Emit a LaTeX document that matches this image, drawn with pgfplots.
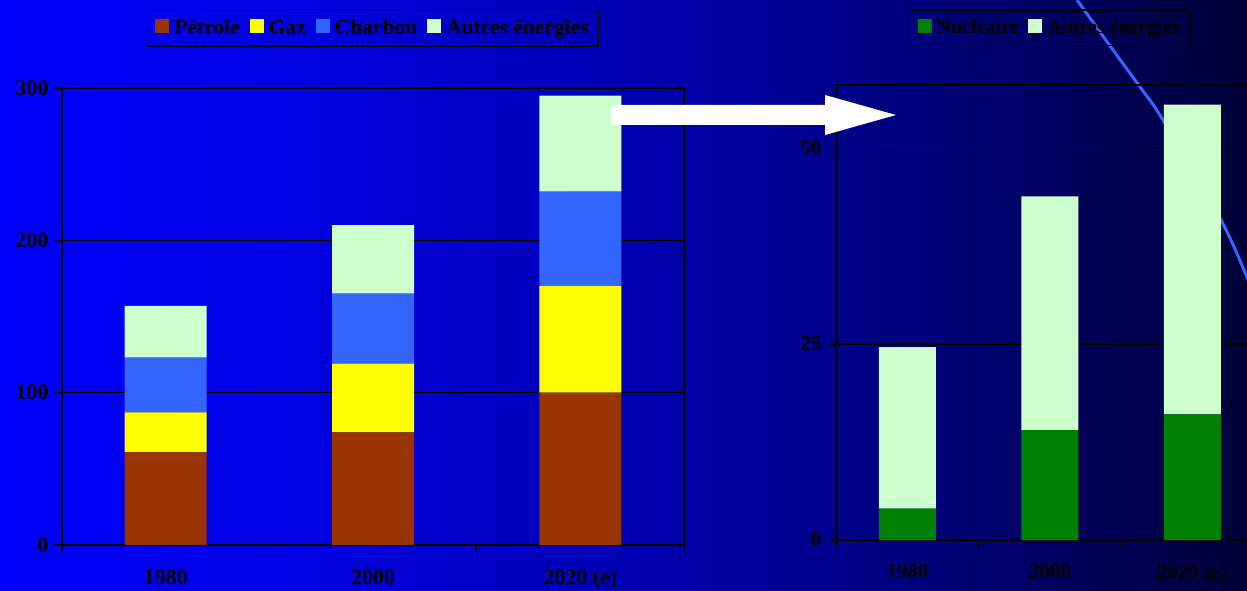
\documentclass[border=0pt]{standalone}
\usepackage{pgfplots}
\pgfplotsset{compat=1.18}
\usepackage{fontspec}
\setmainfont{Liberation Serif}
\definecolor{petrole}{RGB}{153,51,0}
\definecolor{gaz}{RGB}{255,255,0}
\definecolor{charbon}{RGB}{51,102,255}
\definecolor{autres}{RGB}{204,255,204}
\definecolor{nucl}{RGB}{0,128,0}
\definecolor{deco}{RGB}{51,102,255}
\pgfdeclarehorizontalshading{bg}{590pt}{rgb(0pt)=(0,0,1); rgb(312pt)=(0,0,0.88); rgb(624pt)=(0,0,0.70); rgb(836pt)=(0,0,0.55); rgb(1050pt)=(0,0,0.38); rgb(1247pt)=(0,0,0.22)}
\pgfplotsset{
  common/.style={
    scale only axis, anchor=south west,
    ybar stacked,
    xmin=-0.5, xmax=2.5, ymin=0,
    xtick={-0.5,0.5,1.5,2.5}, xticklabels={},
    extra x ticks={0,1,2}, extra x tick labels={1980,2000,2020 (e)},
    extra x tick style={major tick length=0pt, xticklabel style={yshift=-21pt}},
    ymajorgrids,
    grid style={black, line width=1.3pt},
    tick pos=left, tick align=outside, major tick length=7pt,
    tick style={black, line width=1.3pt},
    axis line style={black, line width=1.5pt},
    /pgf/number format/assume math mode=true,
    legend columns=-1,
    legend image code/.code={\fill[##1] (0pt,-5pt) rectangle (14pt,9pt);},
    legend style={draw=black, line width=1.3pt, fill=none, text=black,
      inner xsep=8pt, inner ysep=8pt,
      /tikz/every odd column/.append style={column sep=3pt},
      /tikz/every even column/.append style={column sep=8pt}},
  }
}
\begin{document}
\begin{tikzpicture}[x=1pt,y=1pt]
\useasboundingbox (0,0) rectangle (1247,590);
\clip (0,0) rectangle (1247,590);
\node[inner sep=0pt, outer sep=0pt, anchor=south west] at (0,0) {\pgfuseshading{bg}};
\draw[deco, line width=3pt] plot[smooth] coordinates {(1077,590) (1113,540) (1140,503) (1163,470) (1220,372) (1247,313) (1258,285)};
\begin{axis}[common,
  at={(62pt,45pt)}, width=622pt, height=457pt,
  ymax=300, ytick={0,100,200,300}, bar width=82pt,
  ticklabel style={font=\bfseries\fontsize{22}{22}\selectfont, text=black},
  yticklabel style={xshift=-3pt},
  legend style={at={(0.5,1.132)}, anchor=center, font=\bfseries\fontsize{21.5}{24}\selectfont},
]
\addplot[fill=petrole, draw=none] coordinates {(0,61) (1,74) (2,100)};
\addplot[fill=gaz, draw=none] coordinates {(0,26) (1,45) (2,70)};
\addplot[fill=charbon, draw=none] coordinates {(0,36) (1,46) (2,62)};
\addplot[fill=autres, draw=none] coordinates {(0,34) (1,45) (2,63)};
\legend{Pétrole, Gaz, Charbon, Autres énergies}
\end{axis}
\begin{axis}[common,
  at={(836pt,50pt)}, width=427.5pt, height=455pt,
  ymax=58, ytick={0,25,50}, bar width=57pt,
  ticklabel style={font=\bfseries\fontsize{21}{21}\selectfont, text=black},
  yticklabel style={xshift=-4pt},
  legend style={at={(0.5,1.126)}, anchor=center, font=\bfseries\fontsize{20}{23}\selectfont},
]
\addplot[fill=nucl, draw=none] coordinates {(0,4) (1,14) (2,16)};
\addplot[fill=autres, draw=none] coordinates {(0,20.6) (1,29.8) (2,39.5)};
\legend{Nucléaire, Autres énergies}
\end{axis}
\fill[white] (611,485) -- (825,485) -- (825,495) -- (896,475) -- (825,455) -- (825,465) -- (611,465) -- cycle;
\end{tikzpicture}
\end{document}
